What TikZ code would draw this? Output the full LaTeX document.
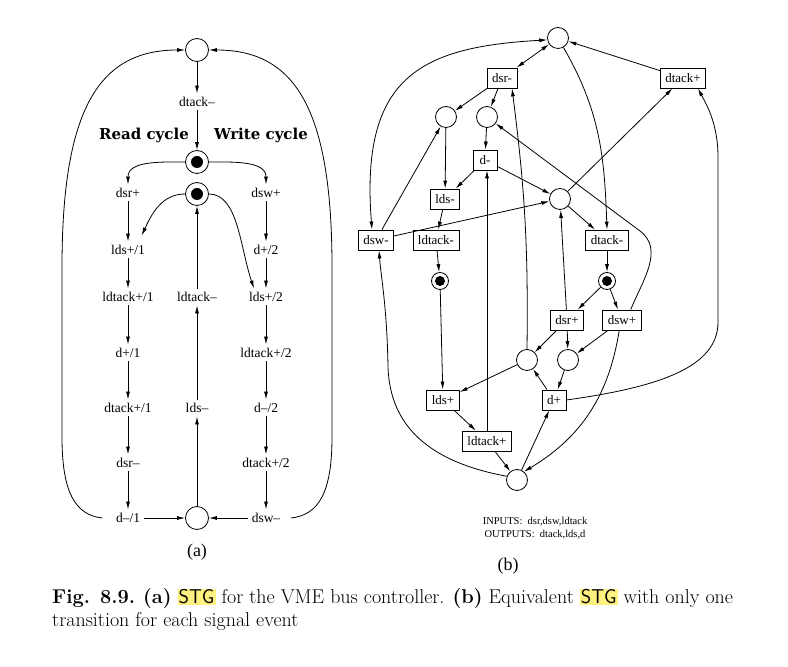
\documentclass[tikz,border=0pt]{standalone}
\usepackage{fontspec}
\usepackage{xcolor}
\usetikzlibrary{arrows.meta,calc}
\newfontfamily\stgfont{Liberation Serif}
\newfontfamily\cyclefont{DejaVu Serif}
\definecolor{hlyellow}{RGB}{255,241,128}
\newcommand{\hlstg}[1]{{\setlength{\fboxsep}{1pt}\colorbox{hlyellow}{\sffamily #1}}}

\begin{document}
\begin{tikzpicture}[x=1pt, y=1pt,
    place/.style={circle, draw, line width=0.8pt, minimum size=21pt, inner sep=0pt},
    placeA/.style={place, minimum size=23pt},
    tokenA/.style={placeA, path picture={\fill (path picture bounding box.center) circle (6pt);}},
    tokenB/.style={place, minimum size=17pt, path picture={\fill (path picture bounding box.center) circle (5pt);}},
    sig/.style={font=\stgfont\fontsize{13.5}{16}\selectfont, inner sep=3.5pt},
    trans/.style={draw, line width=0.8pt, font=\stgfont\fontsize{13}{15}\selectfont,
                  minimum height=20pt, minimum width=24pt, inner xsep=5pt, inner ysep=2pt},
    arc/.style={line width=0.8pt, -{Latex[length=8pt,width=4pt]}},
    biarc/.style={line width=0.8pt, {Latex[length=8pt,width=4pt]}-{Latex[length=8pt,width=4pt]}}]

  \useasboundingbox (0,0) rectangle (788,667);

  % (a) places and signal events
  \node[placeA] (aTop) at (197,617) {};
  \node[sig] (aDtackM) at (197,565) {dtack–};
  \node[font=\cyclefont\bfseries\fontsize{15}{17}\selectfont] (readlbl) at (144,532) {Read cycle};
  \node[font=\cyclefont\bfseries\fontsize{15}{17}\selectfont] (writelbl) at (261,532) {Write cycle};
  \node[tokenA] (aM1) at (197,505) {};
  \node[tokenA] (aM2) at (197,473) {};
  \node[sig] (aDsrP) at (128,474) {dsr+};
  \node[sig] (aDswP) at (266,474) {dsw+};
  \node[sig] (aLds1) at (128,417) {lds+/1};
  \node[sig] (aD2) at (266,417) {d+/2};
  \node[sig] (aLdtack1) at (128,370) {ldtack+/1};
  \node[sig] (aLdtackM) at (197,370) {ldtack–};
  \node[sig] (aLds2) at (266,370) {lds+/2};
  \node[sig] (aD1) at (128,314) {d+/1};
  \node[sig] (aLdtack2) at (266,314) {ldtack+/2};
  \node[sig] (aDtack1) at (128,259) {dtack+/1};
  \node[sig] (aLdsM) at (197,259) {lds–};
  \node[sig] (aDm2) at (266,259) {d–/2};
  \node[sig] (aDsrM) at (128,204) {dsr–};
  \node[sig] (aDtack2) at (266,204) {dtack+/2};
  \node[sig] (aDm1) at (128,149) {d–/1};
  \node[placeA] (aBot) at (197,149) {};
  \node[sig] (aDswM) at (266,149) {dsw–};
  \node[font=\stgfont\fontsize{18}{20}\selectfont] (aTag) at (197,115) {(a)};

  % (a) arcs
  \draw[arc] (aTop) -- (aDtackM);
  \draw[arc] (aDtackM) -- (aM1);
  \draw[arc] (aM1.west) to[out=180,in=90] (aDsrP.north);
  \draw[arc] (aM1.east) to[out=0,in=90] (aDswP.north);
  \foreach \a/\b in {aDsrP/aLds1, aLds1/aLdtack1, aLdtack1/aD1, aD1/aDtack1, aDtack1/aDsrM, aDsrM/aDm1,
                     aDswP/aD2, aD2/aLds2, aLds2/aLdtack2, aLdtack2/aDm2, aDm2/aDtack2, aDtack2/aDswM,
                     aBot/aLdsM, aLdsM/aLdtackM, aLdtackM/aM2, aDm1/aBot, aDswM/aBot}
    \draw[arc] (\a) -- (\b);
  \draw[arc] (aM2.west) to[out=180,in=65] ([xshift=-7pt,yshift=6pt]aLds1.north east);
  \draw[arc] (aM2.east) .. controls (238,473) and (240,420) .. ([xshift=-12pt]aLds2.north);
  \draw[arc] ([xshift=-10pt]aDm1.west) .. controls (75,152) and (62,175) .. (62,230)
    -- (62,400) .. controls (62,560) and (100,617) .. (aTop.west);
  \draw[arc] ([xshift=7pt]aDswM.east) .. controls (319,152) and (332,175) .. (332,230)
    -- (332,400) .. controls (332,560) and (294,617) .. (aTop.east);

  % (b) places and transitions
  \node[place] (bP0) at (558,629) {};
  \node[trans] (bDsrM) at (502,589) {dsr-};
  \node[trans] (bDtackP) at (683,589) {dtack+};
  \node[place] (bPa) at (446,550) {};
  \node[place] (bPb) at (487,550) {};
  \node[trans] (bDM) at (485,507) {d-};
  \node[trans] (bLdsM) at (445,468) {lds-};
  \node[place] (bPc) at (560,468) {};
  \node[trans] (bDswM) at (376,427) {dsw-};
  \node[trans] (bLdtackM) at (436,427) {ldtack-};
  \node[trans] (bDtackM) at (607,427) {dtack-};
  \node[tokenB] (bPl) at (440,386) {};
  \node[tokenB] (bPr) at (607,386) {};
  \node[trans] (bDsrP) at (567,347) {dsr+};
  \node[trans] (bDswP) at (622,347) {dsw+};
  \node[place] (bPd) at (527,307) {};
  \node[place] (bPe) at (568,307) {};
  \node[trans] (bLdsP) at (443,267) {lds+};
  \node[trans] (bDP) at (554,267) {d+};
  \node[trans] (bLdtackP) at (487,226) {ldtack+};
  \node[place] (bPf) at (517,187) {};
  \node[font=\stgfont\fontsize{10.5}{12.5}\selectfont, align=center] (bIO) at (535,139)
    {INPUTS:\ \ dsr,dsw,ldtack\\OUTPUTS:\ \ dtack,lds,d};
  \node[font=\stgfont\fontsize{18}{20}\selectfont] (bTag) at (508,101) {(b)};

  % (b) arcs
  \draw[biarc] (bDsrM) -- (bP0);
  \foreach \a/\b in {bDtackP/bP0, bDsrM/bPa, bDsrM/bPb, bPa/bLdsM, bPb/bDM, bDM/bLdsM, bDM/bPc,
                     bLdsM/bLdtackM, bLdtackM/bPl, bDswM/bPa, bDswM/bPc, bPc/bDtackP, bPc/bDtackM,
                     bDtackM/bPr, bPr/bDsrP, bPr/bDswP, bDsrP/bPc, bDsrP/bPd, bDsrP/bPe, bDswP/bPe,
                     bPd/bLdsP, bPe/bDP, bDP/bPd, bLdsP/bLdtackP, bLdtackP/bPf, bPf/bDP, bPl/bLdsP}
    \draw[arc] (\a) -- (\b);
  \draw[arc] (bP0) to[out=-60,in=92] (bDtackM.north);
  \draw[biarc] ([xshift=-4pt]bDswM.north) .. controls (360,590) and (420,620) .. (bP0.190);
  \draw[arc] (bDswP.50) to[out=68,in=-37] (640,436) -- (bPb);
  \draw[arc] (bDswP.-105) to[bend left=25] (bPf.50);
  \draw[arc] (bPd.north) to[bend right=4] ([xshift=10pt]bDsrM.south);
  \draw[arc] (bDP.east) .. controls (660,280) and (718,300) .. (718,345)
    -- (718,510) .. controls (718,545) and (705,565) .. ([xshift=15pt]bDtackP.south);
  \draw[arc] (bLdtackP.north) -- (bLdtackP.north |- bDM.south);
  \draw[arc] (bPf.160) .. controls (430,205) and (390,240) .. (388,300)
    .. controls (387,360) and (381,390) .. ([xshift=3pt]bDswM.south);

  % caption
  \node[font=\fontsize{20}{23}\selectfont, anchor=base west, inner sep=0pt] (capA) at (52,63)
    {\textbf{Fig. 8.9.} \textbf{(a)} \hlstg{STG} for the VME bus controller. \textbf{(b)} Equivalent \hlstg{STG} with only one};
  \node[font=\fontsize{20}{23}\selectfont, anchor=base west, inner sep=0pt] (capB) at (52,40)
    {transition for each signal event};

\end{tikzpicture}
\end{document}
